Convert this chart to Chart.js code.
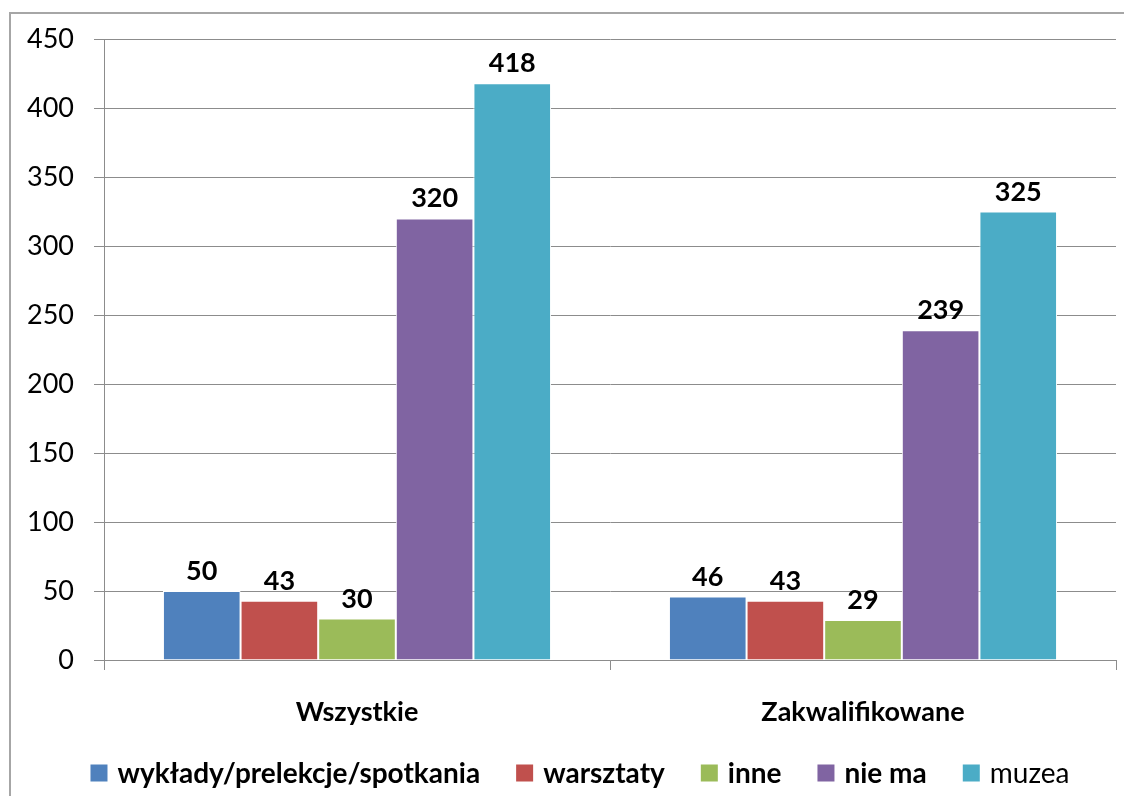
<!DOCTYPE html>
<html>
<head>
<meta charset="utf-8">
<script src="https://cdn.jsdelivr.net/npm/chart.js@4/dist/chart.umd.min.js"></script>
<style>
    html, body { margin: 0; padding: 0; background: #fff; }
    #frame {
        position: absolute; left: 9px; top: 12px; width: 1200px; height: 900px;
        border-top: 2px solid #a6a6a6; border-left: 2px solid #a6a6a6;
    }
    #wrap { position: absolute; left: 0; top: 0; width: 1124px; height: 796px; }
</style>
</head>
<body>
<div id="frame"></div>
<div id="wrap"><canvas id="chart" width="1124" height="796"></canvas></div>
<script>
// Dane wykresu
const categories = ["Wszystkie", "Zakwalifikowane"];
const seriesNames = ["wykłady/prelekcje/spotkania", "warsztaty", "inne", "nie ma", "muzea"];
const seriesColors = ["#4F81BD", "#C0504D", "#9BBB59", "#8064A2", "#4BACC6"];
const wykladyValues = [50, 46];
const warsztatyValues = [43, 43];
const inneValues = [30, 29];
const nieMaValues = [320, 239];
const muzeaValues = [418, 325];
const yTicks = [0, 50, 100, 150, 200, 250, 300, 350, 400, 450];

const FONT = "Lato, 'Open Sans', sans-serif";

// Etykiety wartości nad słupkami
const valueLabels = {
    id: 'valueLabels',
    afterDatasetsDraw(chart) {
        const ctx = chart.ctx;
        ctx.save();
        ctx.font = "bold 27px " + FONT;
        ctx.fillStyle = "#000";
        ctx.textAlign = "center";
        ctx.textBaseline = "alphabetic";
        chart.data.datasets.forEach(function(ds, i) {
            chart.getDatasetMeta(i).data.forEach(function(bar, j) {
                ctx.fillText(ds.data[j], bar.x, bar.y - 11);
            });
        });
        ctx.restore();
    }
};

// Legenda rysowana ręcznie (muzea bez pogrubienia)
const bottomLegend = {
    id: 'bottomLegend',
    afterDraw(chart) {
        const ctx = chart.ctx;
        const box = 17, gap = 10, spacing = 36;
        ctx.save();
        const items = chart.data.datasets.map(function(ds, i) {
            const font = (i === 4 ? "" : "bold ") + "28px " + FONT;
            ctx.font = font;
            return { label: ds.label, color: ds.backgroundColor, font: font, w: ctx.measureText(ds.label).width };
        });
        let total = 0;
        items.forEach(function(it, i) { total += box + gap + it.w + (i < items.length - 1 ? spacing : 0); });
        let x = chart.width / 2 + 18 - total / 2;
        const y = 773;
        ctx.textBaseline = "middle";
        ctx.textAlign = "left";
        items.forEach(function(it) {
            ctx.fillStyle = it.color;
            ctx.fillRect(x, y - box / 2, box, box);
            x += box + gap;
            ctx.font = it.font;
            ctx.fillStyle = "#000";
            ctx.fillText(it.label, x, y + 1);
            x += it.w + spacing;
        });
        ctx.restore();
    }
};

const allValues = [wykladyValues, warsztatyValues, inneValues, nieMaValues, muzeaValues];

new Chart(document.getElementById("chart"), {
    type: 'bar',
    data: {
        labels: categories,
        datasets: seriesNames.map(function(name, i) {
            return {
                label: name,
                data: allValues[i],
                backgroundColor: seriesColors[i],
                borderColor: "#ffffff",
                borderWidth: 1,
                categoryPercentage: 0.767,
                barPercentage: 1.0
            };
        })
    },
    options: {
        responsive: false,
        animation: false,
        layout: { padding: { top: 39, right: 8, left: 0, bottom: 0 } },
        plugins: {
            legend: { display: false },
            tooltip: { enabled: false }
        },
        scales: {
            x: {
                offset: true,
                afterFit: function(scale) { scale.height = 136; },
                grid: { drawOnChartArea: false, offset: true, tickLength: 10, color: "#8c8c8c" },
                border: { color: "#8c8c8c" },
                ticks: { color: "#000", padding: 26, font: { family: FONT, size: 27, weight: "bold" } }
            },
            y: {
                min: 0,
                max: 450,
                afterFit: function(scale) { scale.width = 104; },
                afterBuildTicks: function(scale) { scale.ticks = yTicks.map(function(v) { return { value: v }; }); },
                grid: { color: "#8c8c8c", tickLength: 10 },
                border: { color: "#8c8c8c" },
                ticks: { color: "#000", padding: 20, font: { family: FONT, size: 27 } }
            }
        }
    },
    plugins: [valueLabels, bottomLegend]
});
</script>
</body>
</html>
